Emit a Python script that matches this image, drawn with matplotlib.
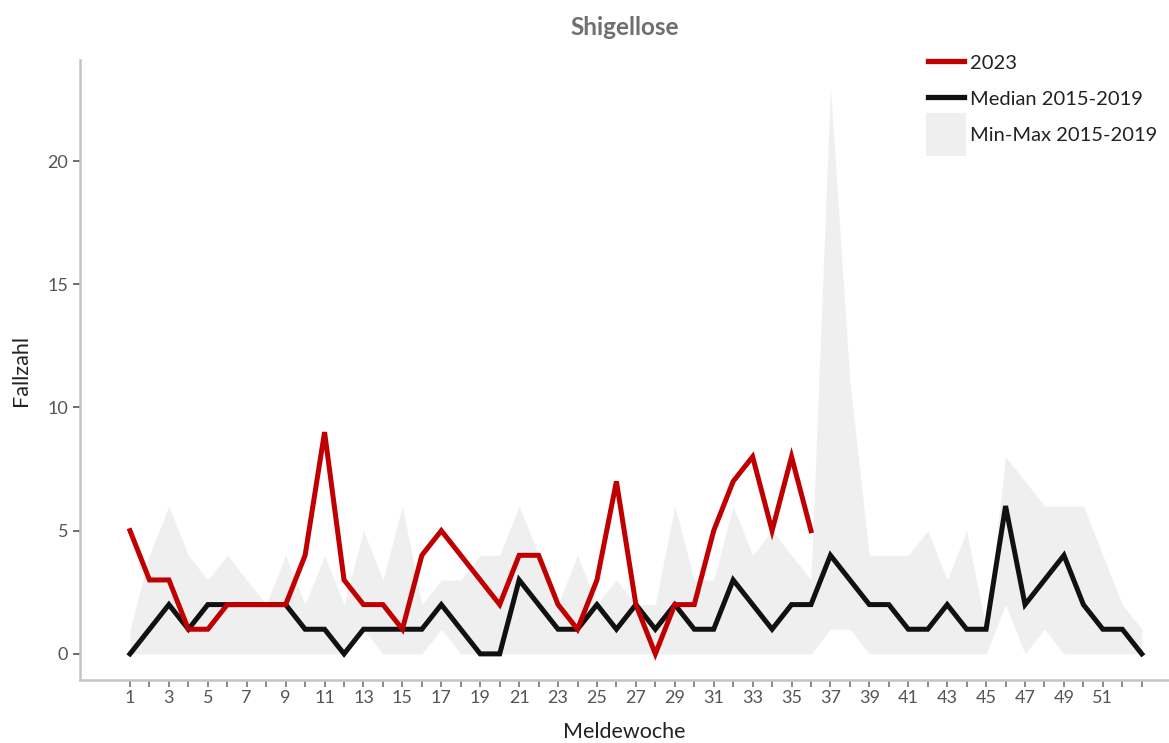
import matplotlib
matplotlib.use("Agg")
import matplotlib.pyplot as plt
from matplotlib.lines import Line2D
from matplotlib.patches import Patch, Rectangle
from matplotlib.legend_handler import HandlerPatch

weeks = list(range(1, 54))
cases_2023 = [5, 3, 3, 1, 1, 2, 2, 2, 2, 4, 9, 3, 2, 2, 1, 4, 5, 4, 3, 2, 4, 4, 2, 1, 3, 7,
              2, 0, 2, 2, 5, 7, 8, 5, 8, 5]
median_1519 = [0, 1, 2, 1, 2, 2, 2, 2, 2, 1, 1, 0, 1, 1, 1, 1, 2, 1, 0, 0, 3, 2, 1, 1, 2, 1,
               2, 1, 2, 1, 1, 3, 2, 1, 2, 2, 4, 3, 2, 2, 1, 1, 2, 1, 1, 6, 2, 3, 4, 2, 1, 1, 0]
min_1519 = [0, 0, 0, 0, 0, 0, 0, 0, 0, 0, 0, 0, 1, 0, 0, 0, 1, 0, 0, 0, 0, 0, 0, 0, 0, 0,
            0, 0, 0, 0, 0, 0, 0, 0, 0, 0, 1, 1, 0, 0, 0, 0, 0, 0, 0, 2, 0, 1, 0, 0, 0, 0, 0]
max_1519 = [1, 4, 6, 4, 3, 4, 3, 2, 4, 2, 4, 2, 5, 3, 6, 2, 3, 3, 4, 4, 6, 4, 2, 4, 2, 3,
            2, 2, 6, 3, 3, 6, 4, 5, 4, 3, 23, 11, 4, 4, 4, 5, 3, 5, 1, 8, 7, 6, 6, 6, 4, 2, 1]
xtick_labels = [str(w) if (w % 2 == 1 and w <= 51) else "" for w in weeks]
yticks = [0, 5, 10, 15, 20]

plt.rcParams['font.family'] = ['Lato', 'DejaVu Sans']

fig = plt.figure(figsize=(11.69, 7.43), dpi=100)
ax = fig.add_axes([80/1169, 1 - 680/743, 1 - 80/1169, (680 - 60)/743])

ax.fill_between(weeks, min_1519, max_1519, color='#efefef', lw=0, zorder=1)
ax.plot(weeks, median_1519, color='#111111', lw=3.6, solid_joinstyle='miter', zorder=3)
ax.plot(weeks[:len(cases_2023)], cases_2023, color='#c00000', lw=3.6,
        solid_joinstyle='miter', zorder=4)

ax.set_xlim(-1.57, 54.4)
ax.set_ylim(-1.06, 24.1)

ax.set_xticks(weeks)
ax.set_xticklabels(xtick_labels)
ax.set_yticks(yticks)
ax.tick_params(axis='both', colors='#555555', labelsize=13, length=5, width=1.2)
ax.tick_params(axis='x', colors='#777777', labelcolor='#555555', pad=2)

for s in ['top', 'right']:
    ax.spines[s].set_visible(False)
for s in ['left', 'bottom']:
    ax.spines[s].set_color('#c4c4c4')
    ax.spines[s].set_linewidth(1.8)

ax.set_xlabel('Meldewoche', fontsize=15.5, color='#222222', labelpad=12)
ax.set_ylabel('Fallzahl', fontsize=15.5, color='#222222', labelpad=12)
ax.set_title('Shigellose', fontsize=17.5, fontweight='bold', color='#6f6f6f', pad=18)


class TallPatchHandler(HandlerPatch):
    def create_artists(self, legend, orig_handle, xdescent, ydescent,
                       width, height, fontsize, trans):
        extra = height * 0.7
        p = Rectangle((-xdescent - 2, -ydescent - extra), width + 4, height + 2 * extra,
                      facecolor=orig_handle.get_facecolor(), edgecolor='none',
                      transform=trans)
        return [p]


handles = [Line2D([0], [0], color='#c00000', lw=3.8),
           Line2D([0], [0], color='#111111', lw=3.8),
           Patch(facecolor='#efefef', edgecolor='none')]
labels = ['2023', 'Median 2015-2019', 'Min-Max 2015-2019']
leg = ax.legend(handles, labels, loc='upper right', bbox_to_anchor=(1.0, 1.03),
                frameon=False, fontsize=14.5, handlelength=1.75, handleheight=1.0,
                handletextpad=0.3, labelspacing=0.85, borderaxespad=0.2,
                handler_map={Patch: TallPatchHandler()})
for t in leg.get_texts():
    t.set_color('#222222')

fig.savefig('out.png', dpi=100)
